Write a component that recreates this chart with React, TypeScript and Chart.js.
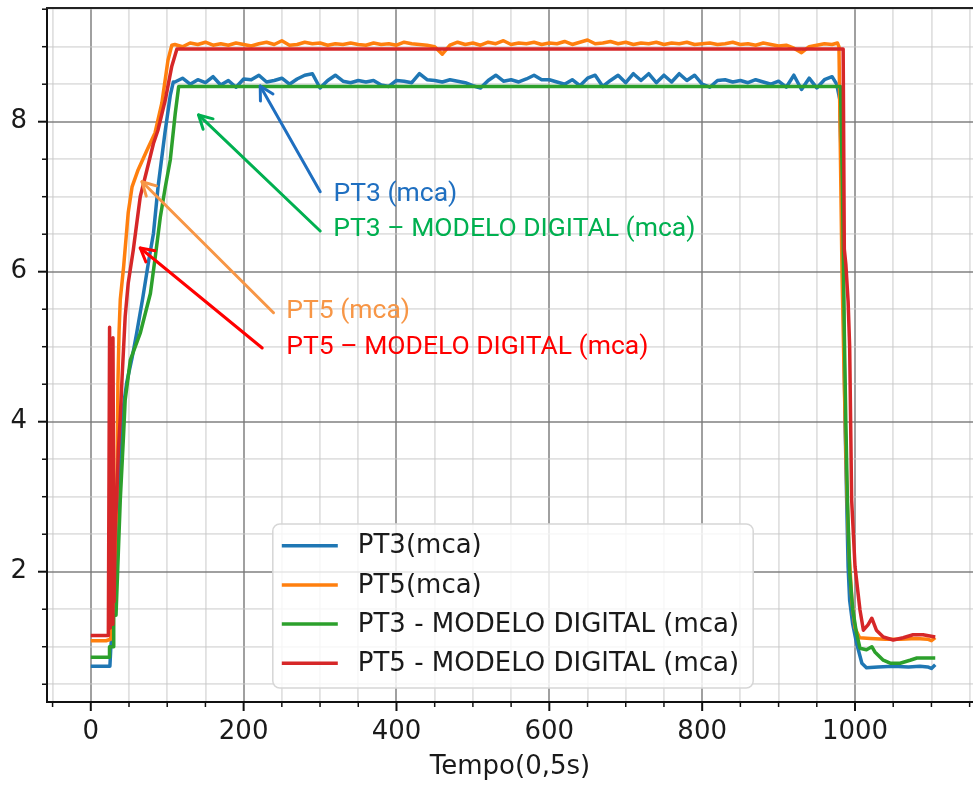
import React, { useEffect, useRef } from "react";
import { Chart, registerables } from "chart.js";

Chart.register(...registerables);

// ---------- DATA ----------
const seriesLabels = [
  "PT3(mca)",
  "PT5(mca)",
  "PT3 - MODELO DIGITAL (mca)",
  "PT5 - MODELO DIGITAL (mca)",
];
const seriesColors = ["#1f77b4", "#ff7f0e", "#2ca02c", "#d62728"];

const plateauTime = [
  110, 120, 130, 140, 150, 160, 170, 180, 190, 200, 210, 220, 230, 240, 250, 260, 270, 280, 290, 300,
  310, 320, 330, 340, 350, 360, 370, 380, 390, 400, 410, 420, 430, 440, 450, 460, 470, 480, 490, 500,
  510, 520, 530, 540, 550, 560, 570, 580, 590, 600, 610, 620, 630, 640, 650, 660, 670, 680, 690, 700,
  710, 720, 730, 740, 750, 760, 770, 780, 790, 800, 810, 820, 830, 840, 850, 860, 870, 880, 890, 900,
  910, 920, 930, 940, 950, 960, 970,
];

// PT3 (measured)
const pt3RiseTime = [0, 25, 26, 28, 30, 32, 34, 36, 38, 41, 44, 47, 54, 60, 68, 76, 82, 88, 97, 104, 108];
const pt3RiseValues = [0.74, 0.74, 0.95, 1.25, 1.7, 2.1, 2.5, 2.96, 3.5, 4.07, 4.3, 4.52, 4.85, 5.18, 5.65, 6.16, 6.51, 7.13, 7.85, 8.35, 8.53];
const pt3PlateauValues = [
  8.53, 8.58, 8.5, 8.56, 8.52, 8.6, 8.49, 8.55, 8.46, 8.57, 8.56, 8.62, 8.53, 8.55, 8.58, 8.5, 8.57, 8.62, 8.64, 8.45,
  8.55, 8.62, 8.54, 8.52, 8.55, 8.53, 8.55, 8.49, 8.47, 8.55, 8.54, 8.52, 8.64, 8.56, 8.55, 8.53, 8.56, 8.54, 8.52, 8.48,
  8.45, 8.55, 8.62, 8.54, 8.56, 8.53, 8.57, 8.62, 8.56, 8.56, 8.53, 8.5, 8.56, 8.48, 8.58, 8.62, 8.47, 8.55, 8.62, 8.52,
  8.64, 8.55, 8.64, 8.52, 8.62, 8.53, 8.64, 8.55, 8.62, 8.5, 8.46, 8.55, 8.56, 8.53, 8.55, 8.52, 8.56, 8.53, 8.5, 8.54,
  8.46, 8.62, 8.43, 8.58, 8.45, 8.56, 8.6,
];
const pt3FallTime = [976, 980, 983, 985, 987, 989, 991, 993, 997, 1002, 1009, 1015, 1030, 1050, 1070, 1085, 1095, 1100, 1105];
const pt3FallValues = [8.5, 8.3, 7.0, 5.5, 4.0, 3.0, 2.06, 1.62, 1.3, 1.05, 0.78, 0.72, 0.73, 0.74, 0.73, 0.74, 0.73, 0.71, 0.76];

// PT5 (measured)
const pt5RiseTime = [0, 20, 26, 29, 32, 34, 35.5, 37, 38.6, 43, 49, 54, 62, 73.5, 84, 93, 101, 106];
const pt5RiseValues = [1.08, 1.08, 1.1, 1.5, 2.3, 3.0, 4.5, 5.2, 5.63, 6.07, 6.79, 7.13, 7.36, 7.62, 7.85, 8.25, 8.82, 9.02];
const pt5PlateauValues = [
  9.03, 9.0, 9.05, 9.03, 9.06, 9.02, 9.04, 9.02, 9.05, 9.03, 9.01, 9.04, 9.06, 9.03, 9.08, 9.02, 9.03, 9.06, 9.04, 9.05,
  9.02, 9.04, 9.03, 9.05, 9.03, 9.02, 9.05, 9.03, 9.04, 9.02, 9.06, 9.04, 9.03, 9.02, 9.0, 8.9, 9.02, 9.06, 9.03, 9.05,
  9.02, 9.06, 9.04, 9.08, 9.03, 9.05, 9.04, 9.06, 9.03, 9.05, 9.04, 9.07, 9.03, 9.06, 9.09, 9.04, 9.05, 9.07, 9.04, 9.06,
  9.03, 9.05, 9.04, 9.06, 9.03, 9.05, 9.04, 9.06, 9.03, 9.04, 9.05, 9.03, 9.04, 9.06, 9.03, 9.04, 9.02, 9.05, 9.03, 9.01,
  9.02, 8.98, 8.92, 9.0, 9.02, 9.04, 9.03,
];
const pt5FallTime = [977, 979, 981, 983, 986, 989, 992, 996, 1000, 1006, 1020, 1040, 1060, 1080, 1095, 1100, 1105];
const pt5FallValues = [9.05, 9.0, 7.5, 6.0, 4.5, 3.2, 2.3, 1.6, 1.25, 1.12, 1.11, 1.1, 1.1, 1.11, 1.1, 1.08, 1.12];

// PT3 - MODELO DIGITAL
const pt3ModelTime = [0, 24, 24.5, 29.5, 30, 33, 38.6, 43, 45, 51.7, 64.7, 78, 84.4, 91, 97.5, 104, 110.5, 115, 981, 983.5, 985, 986, 988, 990, 993, 997, 1002, 1006.5, 1015, 1022, 1026, 1037, 1046, 1059, 1072, 1081, 1105];
const pt3ModelValues = [0.86, 0.86, 1.0, 1.0, 1.42, 1.42, 2.96, 3.85, 4.29, 4.82, 5.18, 5.71, 6.2, 6.73, 7.13, 7.49, 8.11, 8.47, 8.47, 7.2, 6.0, 5.2, 4.0, 3.0, 2.0, 1.5, 1.18, 0.98, 0.96, 1.0, 0.93, 0.82, 0.78, 0.78, 0.82, 0.85, 0.85];

// PT5 - MODELO DIGITAL
const pt5ModelTime = [0, 23, 24.6, 25.5, 27, 28, 29, 30.5, 32, 34, 36, 38.6, 41, 45, 49, 55.6, 64.7, 73.5, 82, 88, 97.5, 106, 112.7, 984.5, 986, 988, 991, 993, 995.6, 1000, 1006.5, 1011, 1017, 1022, 1028, 1037, 1050, 1063, 1076, 1089, 1105];
const pt5ModelValues = [1.15, 1.15, 5.26, 1.25, 2.5, 1.3, 5.12, 1.6, 2.6, 3.0, 3.6, 4.06, 4.6, 5.4, 5.85, 6.29, 7.0, 7.36, 7.71, 7.89, 8.29, 8.74, 8.97, 8.97, 6.3, 6.1, 5.6, 5.0, 2.96, 2.07, 1.49, 1.22, 1.29, 1.38, 1.22, 1.13, 1.09, 1.12, 1.16, 1.16, 1.13];

// Axes
const xTickValues = [-50, 0, 50, 100, 150, 200, 250, 300, 350, 400, 450, 500, 550, 600, 650, 700, 750, 800, 850, 900, 950, 1000, 1050, 1100, 1150];
const xTickLabels = [0, 200, 400, 600, 800, 1000];
const yTickValues = [0.5, 1, 1.5, 2, 2.5, 3, 3.5, 4, 4.5, 5, 5.5, 6, 6.5, 7, 7.5, 8, 8.5, 9, 9.5];
const yTickLabels = [2, 4, 6, 8];
const xRange = [-57.3, 1154.4];
const yRange = [0.263, 9.516];
const xAxisTitle = "Tempo(0,5s)";

// Callout annotations (data coordinates)
const annotations = [
  { text: "PT3 (mca)", color: "#1f6fc0", textX: 317.6, textY: 7.036, tailX: 300.2, tailY: 7.067, headX: 221.7, headY: 8.476 },
  { text: "PT3 – MODELO DIGITAL (mca)", color: "#00b050", textX: 317.2, textY: 6.57, tailX: 300.2, tailY: 6.543, headX: 141, headY: 8.09 },
  { text: "PT5 (mca)", color: "#f79646", textX: 255.7, textY: 5.476, tailX: 239.1, tailY: 5.453, headX: 67, headY: 7.2 },
  { text: "PT5 – MODELO DIGITAL (mca)", color: "#ff0000", textX: 255.7, textY: 4.996, tailX: 224.3, tailY: 4.983, headX: 64.7, headY: 6.316 },
];

// ---------- BUILD ----------
const zip = (t: number[], v: number[]) => t.map((x, i) => ({ x, y: v[i] }));
const seriesPoints = [
  zip([...pt3RiseTime, ...plateauTime, ...pt3FallTime], [...pt3RiseValues, ...pt3PlateauValues, ...pt3FallValues]),
  zip([...pt5RiseTime, ...plateauTime, ...pt5FallTime], [...pt5RiseValues, ...pt5PlateauValues, ...pt5FallValues]),
  zip(pt3ModelTime, pt3ModelValues),
  zip(pt5ModelTime, pt5ModelValues),
];

const FONT = '"DejaVu Sans"';
const FS = 26;
const TXT = "#1a1a1a";

function drawArrow(ctx: CanvasRenderingContext2D, x1: number, y1: number, x2: number, y2: number, color: string) {
  ctx.strokeStyle = color;
  ctx.lineWidth = 3;
  ctx.lineCap = "round";
  ctx.lineJoin = "round";
  ctx.beginPath();
  ctx.moveTo(x1, y1);
  ctx.lineTo(x2, y2);
  ctx.stroke();
  const a = Math.atan2(y2 - y1, x2 - x1);
  const s = 15;
  const spread = 0.5;
  ctx.beginPath();
  ctx.moveTo(x2 - s * Math.cos(a - spread), y2 - s * Math.sin(a - spread));
  ctx.lineTo(x2, y2);
  ctx.lineTo(x2 - s * Math.cos(a + spread), y2 - s * Math.sin(a + spread));
  ctx.stroke();
}

const zeroPad = (scale: any) => {
  scale.paddingTop = 0;
  scale.paddingBottom = 0;
  scale.paddingLeft = 0;
  scale.paddingRight = 0;
};

const decorPlugin = {
  id: "decor",
  afterDraw(chart: any) {
    const { ctx, chartArea: ca, scales } = chart;
    const xs = scales.x;
    const ys = scales.y;
    ctx.save();
    // top spine
    ctx.strokeStyle = "#222";
    ctx.lineWidth = 2;
    ctx.beginPath();
    ctx.moveTo(ca.left - 1, ca.top);
    ctx.lineTo(ca.right + 2, ca.top);
    ctx.stroke();
    // ticks
    ctx.strokeStyle = "#111";
    for (const v of xTickValues) {
      const px = xs.getPixelForValue(v);
      const major = xTickLabels.includes(v);
      ctx.lineWidth = major ? 2 : 1.5;
      ctx.beginPath();
      ctx.moveTo(px, ca.bottom);
      ctx.lineTo(px, ca.bottom + (major ? 9 : 5));
      ctx.stroke();
    }
    for (const v of yTickValues) {
      const py = ys.getPixelForValue(v);
      const major = yTickLabels.includes(v);
      ctx.lineWidth = major ? 2 : 1.5;
      ctx.beginPath();
      ctx.moveTo(ca.left, py);
      ctx.lineTo(ca.left - (major ? 9 : 5), py);
      ctx.stroke();
    }
    // legend
    ctx.font = `${FS}px ${FONT}`;
    const maxW = Math.max(...seriesLabels.map((t) => ctx.measureText(t).width));
    const padL = 9, lineLen = 56, gap = 20, padR = 14;
    const w = padL + lineLen + gap + maxW + padR;
    const h = 164;
    const cx = (ca.left + ca.right) / 2 + 3;
    const left = cx - w / 2;
    const top = ca.bottom - 14 - h;
    ctx.beginPath();
    ctx.roundRect(left, top, w, h, 7);
    ctx.fillStyle = "rgba(255,255,255,0.8)";
    ctx.fill();
    ctx.strokeStyle = "#d6d6d6";
    ctx.lineWidth = 1.5;
    ctx.stroke();
    ctx.textBaseline = "middle";
    ctx.textAlign = "left";
    seriesLabels.forEach((label, i) => {
      const yy = top + 21.7 + i * 39.2;
      ctx.strokeStyle = seriesColors[i];
      ctx.lineWidth = 3.5;
      ctx.lineCap = "butt";
      ctx.beginPath();
      ctx.moveTo(left + padL, yy);
      ctx.lineTo(left + padL + lineLen, yy);
      ctx.stroke();
      ctx.fillStyle = TXT;
      ctx.fillText(label, left + padL + lineLen + gap, yy + 1);
    });
    // annotations
    ctx.font = `26.5px Roboto`;
    for (const a of annotations) {
      drawArrow(ctx, xs.getPixelForValue(a.tailX), ys.getPixelForValue(a.tailY), xs.getPixelForValue(a.headX), ys.getPixelForValue(a.headY), a.color);
      ctx.fillStyle = a.color;
      ctx.textBaseline = "middle";
      ctx.fillText(a.text, xs.getPixelForValue(a.textX), ys.getPixelForValue(a.textY));
    }
    ctx.restore();
  },
};

export default function App() {
  const ref = useRef<HTMLCanvasElement | null>(null);
  useEffect(() => {
    if (!ref.current) return;
    const chart = new Chart(ref.current, {
      type: "line",
      data: {
        datasets: seriesPoints.map((pts, i) => ({
          label: seriesLabels[i],
          data: pts,
          borderColor: seriesColors[i],
          backgroundColor: seriesColors[i],
          borderWidth: 3.5,
          pointRadius: 0,
          tension: 0,
          fill: false,
          borderJoinStyle: "round" as const,
          order: 4 - i,
        })),
      },
      options: {
        responsive: false,
        devicePixelRatio: 1,
        animation: false,
        layout: { padding: { top: 8, right: 0, left: 0, bottom: 0 } },
        plugins: { legend: { display: false }, tooltip: { enabled: false } },
        scales: {
          x: {
            type: "linear",
            min: xRange[0],
            max: xRange[1],
            afterBuildTicks: (scale: any) => {
              scale.ticks = xTickValues.map((value) => ({ value }));
            },
            afterFit: (scale: any) => {
              scale.height = 83;
              zeroPad(scale);
            },
            ticks: {
              autoSkip: false,
              maxRotation: 0,
              minRotation: 0,
              padding: 15,
              color: TXT,
              font: { family: "DejaVu Sans", size: FS },
              callback: (v: any) => (xTickLabels.includes(Number(v)) ? String(v) : ""),
            },
            grid: {
              drawTicks: false,
              color: (c: any) => (xTickLabels.includes(c.tick?.value) ? "rgba(120,120,120,0.7)" : "rgba(200,200,200,0.55)"),
              lineWidth: (c: any) => (xTickLabels.includes(c.tick?.value) ? 2 : 1.8),
            },
            border: { display: true, color: "#111", width: 2 },
            title: {
              display: true,
              text: xAxisTitle,
              color: TXT,
              font: { family: "DejaVu Sans", size: FS },
              padding: { top: 0, bottom: 2 },
            },
          },
          y: {
            type: "linear",
            min: yRange[0],
            max: yRange[1],
            afterBuildTicks: (scale: any) => {
              scale.ticks = yTickValues.map((value) => ({ value }));
            },
            afterFit: (scale: any) => {
              scale.width = 47;
              zeroPad(scale);
            },
            ticks: {
              autoSkip: false,
              padding: 20,
              color: TXT,
              font: { family: "DejaVu Sans", size: FS },
              callback: (v: any) => (yTickLabels.includes(Number(v)) ? String(v) : ""),
            },
            grid: {
              drawTicks: false,
              color: (c: any) => (yTickLabels.includes(c.tick?.value) ? "rgba(120,120,120,0.7)" : "rgba(200,200,200,0.55)"),
              lineWidth: (c: any) => (yTickLabels.includes(c.tick?.value) ? 2 : 1.8),
            },
            border: { display: true, color: "#111", width: 2 },
          },
        },
      },
      plugins: [decorPlugin],
    } as any);
    return () => chart.destroy();
  }, []);
  return (
    <div style={{ position: "absolute", left: 0, top: 0, width: 973, height: 785, background: "#fff" }}>
      <canvas ref={ref} width={973} height={785} style={{ width: 973, height: 785, display: "block" }} />
    </div>
  );
}
